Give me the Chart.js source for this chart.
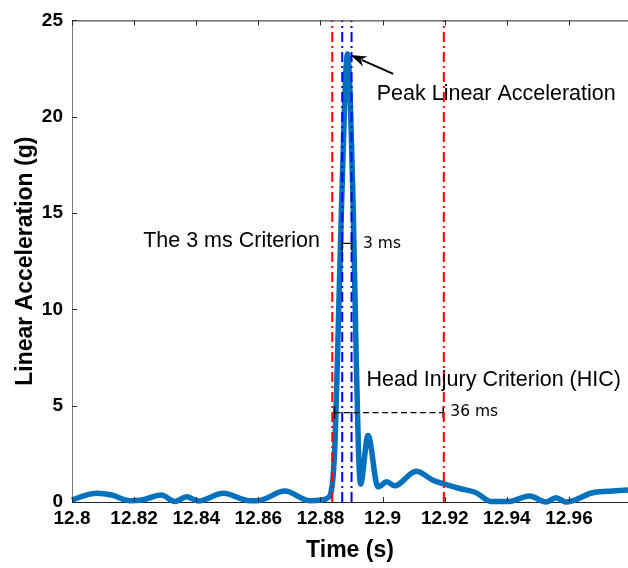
<!DOCTYPE html>
<html lang="en">
<head>
  <meta charset="UTF-8">
  <title>Linear Acceleration</title>
  <script src="https://cdn.jsdelivr.net/npm/chart.js"></script>
  <style>
    html, body { margin: 0; padding: 0; background: #fff; }
    canvas { display: block; }
  </style>
</head>
<body>
  <canvas id="accChart" width="628" height="568"></canvas>

  <script>
    // time (s) and linear acceleration (g)
    const timeS = [
      12.8000, 12.8040, 12.8079, 12.8128, 12.8186, 12.8224, 12.8288, 12.8331,
      12.8369, 12.8406, 12.8487, 12.8572, 12.8598, 12.8685, 12.8765, 12.8800,
      12.8822, 12.8833, 12.8840, 12.8847, 12.8856, 12.8868, 12.8887, 12.8905,
      12.8914, 12.8922, 12.8929, 12.8953, 12.8985, 12.9014, 12.9039, 12.9108,
      12.9162, 12.9200, 12.9248, 12.9301, 12.9350, 12.9403, 12.9473, 12.9526,
      12.9558, 12.9591, 12.9676, 12.9751, 12.9790
    ];
    const accelG = [
      0.10, 0.33, 0.45, 0.36, 0.07, 0.10, 0.36, 0.02,
      0.27, 0.05, 0.45, 0.07, 0.07, 0.57, 0.07, 0.10,
      0.20, 0.45, 1.20, 3.20, 8.30, 15.50, 23.25, 15.50,
      8.30, 2.80, 0.93, 3.45, 0.79, 1.05, 0.84, 1.60,
      1.13, 0.93, 0.70, 0.48, 0.02, 0.02, 0.31, 0.00,
      0.22, 0.00, 0.48, 0.58, 0.62
    ];

    const xTicks = [12.8, 12.82, 12.84, 12.86, 12.88, 12.9, 12.92, 12.94, 12.96];
    const yTicks = [0, 5, 10, 15, 20, 25];

    // criterion windows (s)
    const hicWindow = [12.8838, 12.9197];
    const hicBar = [12.8845, 12.9195];
    const hicBarLevel = 4.64;
    const ms3Window = [12.887, 12.890];
    const ms3BarLevel = 13.43;

    // text labels: [text, time, g, font]
    const labels = [
      ['Peak Linear Acceleration', 12.8981, 20.88, 'big'],
      ['The 3 ms Criterion', 12.8229, 13.22, 'big'],
      ['3 ms', 12.8937, 13.19, 'small'],
      ['Head Injury Criterion (HIC)', 12.8948, 6.02, 'big'],
      ['36 ms', 12.9218, 4.44, 'small']
    ];
    const arrowTail = [12.9034, 22.22];
    const arrowTip = [12.8897, 23.2];

    const vline = (t, color) => ({
      data: [{ x: t, y: 0 }, { x: t, y: 25 }],
      showLine: true,
      borderColor: color,
      borderWidth: 2,
      borderDash: [10, 4, 2, 4],
      pointRadius: 0,
      order: 0
    });

    const bar = (t0, t1, level, radius, dash) => ({
      data: [{ x: t0, y: level }, { x: t1, y: level }],
      showLine: true,
      borderColor: '#000',
      borderWidth: 1.3,
      borderDash: dash,
      pointStyle: 'line',
      rotation: 90,
      pointRadius: radius,
      pointBorderColor: '#000',
      pointBorderWidth: 1.5,
      order: 0
    });

    const decor = {
      id: 'decor',
      afterDraw(chart) {
        const { ctx, chartArea: a, scales: { x, y } } = chart;
        ctx.save();
        ctx.strokeStyle = '#262626';
        ctx.lineWidth = 1;
        ctx.beginPath();
        ctx.moveTo(a.left, a.top + 0.5);
        ctx.lineTo(a.right, a.top + 0.5);
        xTicks.forEach(v => {
          const px = Math.round(x.getPixelForValue(v)) + 0.5;
          ctx.moveTo(px, a.bottom);
          ctx.lineTo(px, a.bottom - 5);
          ctx.moveTo(px, a.top);
          ctx.lineTo(px, a.top + 5);
        });
        yTicks.forEach(v => {
          const py = Math.round(y.getPixelForValue(v)) + 0.5;
          ctx.moveTo(a.left, py);
          ctx.lineTo(a.left + 5, py);
        });
        ctx.stroke();

        // labels
        ctx.fillStyle = '#000';
        ctx.textBaseline = 'alphabetic';
        ctx.textAlign = 'left';
        labels.forEach(([txt, t, g, kind]) => {
          ctx.font = kind === 'big' ? '21.5px "Liberation Sans", Arial, sans-serif'
                                    : '15.5px "DejaVu Sans", sans-serif';
          ctx.fillText(txt, x.getPixelForValue(t), y.getPixelForValue(g));
        });

        // arrow to the peak
        const tx = x.getPixelForValue(arrowTail[0]), ty = y.getPixelForValue(arrowTail[1]);
        const hx = x.getPixelForValue(arrowTip[0]), hy = y.getPixelForValue(arrowTip[1]);
        const ang = Math.atan2(hy - ty, hx - tx);
        const len = 16, half = 5.5;
        const bx = hx - len * Math.cos(ang), by = hy - len * Math.sin(ang);
        ctx.strokeStyle = '#000';
        ctx.lineWidth = 2;
        ctx.beginPath();
        ctx.moveTo(tx, ty);
        ctx.lineTo(bx + 4 * Math.cos(ang), by + 4 * Math.sin(ang));
        ctx.stroke();
        ctx.beginPath();
        ctx.moveTo(hx, hy);
        ctx.lineTo(bx - half * Math.sin(ang), by + half * Math.cos(ang));
        ctx.lineTo(bx + 5 * Math.cos(ang), by + 5 * Math.sin(ang));
        ctx.lineTo(bx + half * Math.sin(ang), by - half * Math.cos(ang));
        ctx.closePath();
        ctx.fill();
        ctx.restore();
      }
    };

    const ctx = document.getElementById('accChart').getContext('2d');
    new Chart(ctx, {
      type: 'scatter',
      data: {
        datasets: [
          vline(hicWindow[0], '#ff0000'),
          vline(hicWindow[1], '#ff0000'),
          vline(ms3Window[0], '#0000ff'),
          vline(ms3Window[1], '#0000ff'),
          bar(ms3Window[0], ms3Window[1], ms3BarLevel, 7, []),
          bar(hicBar[0], hicBar[1], hicBarLevel, 6, [6, 3.5]),
          {
            label: 'Linear Acceleration',
            data: timeS.map((t, i) => ({ x: t, y: accelG[i] })),
            showLine: true,
            borderColor: '#0072BD',
            borderWidth: 5.5,
            borderJoinStyle: 'round',
            borderCapStyle: 'butt',
            cubicInterpolationMode: 'monotone',
            pointRadius: 0,
            clip: false,
            order: 1
          }
        ]
      },
      options: {
        responsive: false,
        devicePixelRatio: 1,
        animation: false,
        layout: { autoPadding: false, padding: { top: 16, right: 0, left: 0, bottom: 0 } },
        plugins: { legend: { display: false }, tooltip: { enabled: false } },
        scales: {
          x: {
            type: 'linear',
            min: 12.8,
            max: 12.979,
            afterBuildTicks: s => { s.ticks = xTicks.map(v => ({ value: v })); },
            afterFit: s => { s.height = 66; s.paddingLeft = 0; s.paddingRight = 0; },
            grid: { display: false, drawTicks: false },
            border: { color: '#262626', width: 1 },
            ticks: {
              padding: 5,
              color: '#000',
              maxRotation: 0,
              font: { family: '"Liberation Sans", Arial, sans-serif', size: 19, weight: 'bold' },
              callback: v => String(Number(v.toFixed(2)))
            },
            title: {
              display: true,
              text: 'Time (s)',
              color: '#000',
              padding: { top: 0, bottom: 4 },
              font: { family: '"Liberation Sans", Arial, sans-serif', size: 23, weight: 'bold' }
            }
          },
          y: {
            min: 0,
            max: 25,
            afterBuildTicks: s => { s.ticks = yTicks.map(v => ({ value: v })); },
            afterFit: s => { s.width = 72; },
            grid: { display: false, drawTicks: false },
            border: { color: '#7a7a7a', width: 1 },
            ticks: {
              padding: 9,
              color: '#000',
              font: { family: '"Liberation Sans", Arial, sans-serif', size: 19, weight: 'bold' }
            },
            title: {
              display: true,
              text: 'Linear Acceleration (g)',
              color: '#000',
              padding: { top: 12, bottom: 0 },
              font: { family: '"Liberation Sans", Arial, sans-serif', size: 23, weight: 'bold' }
            }
          }
        }
      },
      plugins: [decor]
    });
  </script>
</body>
</html>
